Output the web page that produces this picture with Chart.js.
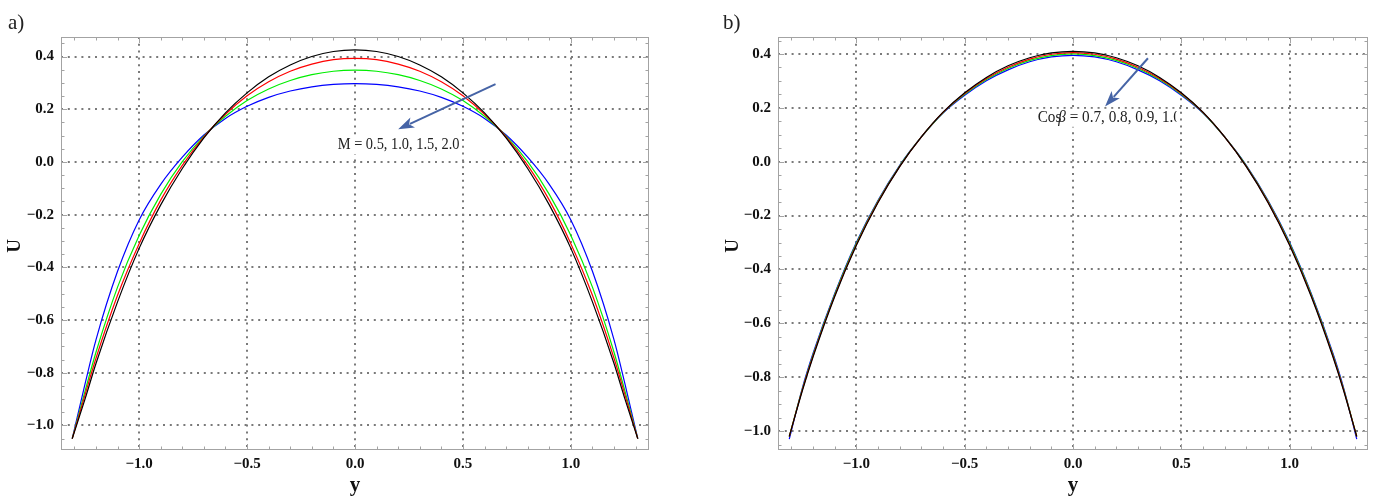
<!DOCTYPE html>
<html>
<head>
<meta charset="utf-8">
<script src="https://cdn.jsdelivr.net/npm/chart.js@4.4.1/dist/chart.umd.min.js"></script>
<style>
  html, body { margin: 0; padding: 0; background: #fff; }
  #wrap { position: relative; width: 1380px; height: 500px; }
  canvas { position: absolute; top: 0; }
</style>
</head>
<body>
<div id="wrap">
  <canvas id="chart-a" width="690" height="500" style="left:0"></canvas>
  <canvas id="chart-b" width="690" height="500" style="left:690px"></canvas>
</div>
<script>
'use strict';

// sample positions across the channel (y)
var yPos = [-1.31, -1.25, -1.2, -1.1, -1.0, -0.9, -0.8, -0.7, -0.6, -0.5, -0.4, -0.3, -0.2, -0.1, 0,
  0.1, 0.2, 0.3, 0.4, 0.5, 0.6, 0.7, 0.8, 0.9, 1.0, 1.1, 1.2, 1.25, 1.31];

// panel a) : M = 0.5, 1.0, 1.5, 2.0
var uM05 = [-1.05, -0.898, -0.765, -0.531, -0.328, -0.163, -0.025, 0.091, 0.186, 0.262, 0.323, 0.368, 0.400, 0.419, 0.425,
  0.419, 0.400, 0.368, 0.323, 0.262, 0.186, 0.091, -0.025, -0.163, -0.328, -0.531, -0.765, -0.898, -1.05];
var uM10 = [-1.05, -0.882, -0.745, -0.506, -0.310, -0.145, -0.013, 0.095, 0.181, 0.251, 0.304, 0.344, 0.371, 0.388, 0.393,
  0.388, 0.371, 0.344, 0.304, 0.251, 0.181, 0.095, -0.013, -0.145, -0.310, -0.506, -0.745, -0.882, -1.05];
var uM15 = [-1.05, -0.868, -0.722, -0.475, -0.279, -0.123, 0.001, 0.098, 0.173, 0.233, 0.277, 0.309, 0.331, 0.344, 0.348,
  0.344, 0.331, 0.309, 0.277, 0.233, 0.173, 0.098, 0.001, -0.123, -0.279, -0.475, -0.722, -0.868, -1.05];
var uM20 = [-1.05, -0.840, -0.675, -0.415, -0.220, -0.085, 0.018, 0.102, 0.165, 0.211, 0.245, 0.269, 0.285, 0.294, 0.297,
  0.294, 0.285, 0.269, 0.245, 0.211, 0.165, 0.102, 0.018, -0.085, -0.220, -0.415, -0.675, -0.840, -1.05];

// panel b) : cos(beta) = 0.7, 0.8, 0.9, 1.0
var uCos07 = [-1.02, -0.851, -0.724, -0.500, -0.310, -0.151, -0.018, 0.092, 0.184, 0.256, 0.313, 0.356, 0.386, 0.404, 0.410,
  0.404, 0.386, 0.356, 0.313, 0.256, 0.184, 0.092, -0.018, -0.151, -0.310, -0.500, -0.724, -0.851, -1.02];
var uCos08 = [-1.02, -0.848, -0.720, -0.497, -0.307, -0.149, -0.017, 0.092, 0.183, 0.253, 0.309, 0.351, 0.381, 0.399, 0.405,
  0.399, 0.381, 0.351, 0.309, 0.253, 0.183, 0.092, -0.017, -0.149, -0.307, -0.497, -0.720, -0.848, -1.02];
var uCos09 = [-1.02, -0.845, -0.716, -0.493, -0.303, -0.146, -0.015, 0.092, 0.182, 0.250, 0.305, 0.346, 0.376, 0.394, 0.400,
  0.394, 0.376, 0.346, 0.305, 0.250, 0.182, 0.092, -0.015, -0.146, -0.303, -0.493, -0.716, -0.845, -1.02];
var uCos10 = [-1.03, -0.841, -0.711, -0.489, -0.299, -0.143, -0.013, 0.092, 0.181, 0.247, 0.301, 0.341, 0.371, 0.389, 0.395,
  0.389, 0.371, 0.341, 0.301, 0.247, 0.181, 0.092, -0.013, -0.143, -0.299, -0.489, -0.711, -0.841, -1.03];

var xTicks = [-1.0, -0.5, 0.0, 0.5, 1.0];
var yTicks = [-1.0, -0.8, -0.6, -0.4, -0.2, 0.0, 0.2, 0.4];
var lineColors = ['#000000', '#ff0000', '#00ee00', '#0000ff'];

var serif = "'Liberation Serif', 'Times New Roman', serif";
var frameColor = '#a3a3a3';
var gridColor = '#7a7a7a';
var arrowColor = '#4664a6';

function fmt(v) {
  var s = Math.abs(v).toFixed(1);
  return v < -1e-9 ? '\u2212' + s : s;
}

function toPoints(arr) {
  return yPos.map(function (x, i) { return { x: x, y: arr[i] }; });
}

function drawArrow(ctx, x1, y1, x2, y2) {
  var ang = Math.atan2(y2 - y1, x2 - x1);
  var c = Math.cos(ang), s = Math.sin(ang);
  var headLen = 16, headW = 5.5;
  var bx = x2 - headLen * c, by = y2 - headLen * s;
  ctx.strokeStyle = arrowColor;
  ctx.fillStyle = arrowColor;
  ctx.lineWidth = 2;
  ctx.beginPath();
  ctx.moveTo(x1, y1);
  ctx.lineTo(bx + 3 * c, by + 3 * s);
  ctx.stroke();
  ctx.beginPath();
  ctx.moveTo(x2, y2);
  ctx.lineTo(bx - headW * s, by + headW * c);
  ctx.lineTo(bx + 4 * c, by + 4 * s);
  ctx.lineTo(bx + headW * s, by - headW * c);
  ctx.closePath();
  ctx.fill();
}

// frame, inward ticks, panel letter, axis titles and annotation
function decorPlugin(cfg) {
  return {
    id: 'decor',
    afterDraw: function (chart) {
      var ctx = chart.ctx, a = chart.chartArea;
      var sx = chart.scales.x, sy = chart.scales.y;
      var i, p;
      ctx.save();
      ctx.strokeStyle = frameColor;
      ctx.lineWidth = 1;
      ctx.strokeRect(Math.round(a.left) + 0.5, Math.round(a.top) + 0.5,
        Math.round(a.right - a.left) - 1, Math.round(a.bottom - a.top) - 1);
      ctx.beginPath();
      for (i = -13; i <= 13; i++) {
        p = Math.round(sx.getPixelForValue(i / 10)) + 0.5;
        var lx = i % 5 === 0 ? 6 : 3.5;
        ctx.moveTo(p, a.bottom); ctx.lineTo(p, a.bottom - lx);
        ctx.moveTo(p, a.top); ctx.lineTo(p, a.top + lx);
      }
      for (i = -21; i <= 9; i++) {
        p = Math.round(sy.getPixelForValue(i * 0.05)) + 0.5;
        var ly = i % 4 === 0 ? 6 : 3.5;
        ctx.moveTo(a.left, p); ctx.lineTo(a.left + ly, p);
        ctx.moveTo(a.right, p); ctx.lineTo(a.right - ly, p);
      }
      ctx.stroke();

      ctx.fillStyle = '#222';
      ctx.font = '21px ' + serif;
      ctx.textAlign = 'left';
      ctx.textBaseline = 'alphabetic';
      ctx.fillText(cfg.panel, cfg.panelX, 29);

      ctx.fillStyle = '#111';
      ctx.font = 'bold 21px ' + serif;
      ctx.textAlign = 'center';
      ctx.fillText('y', sx.getPixelForValue(0), 491);
      ctx.save();
      ctx.translate(cfg.uX, 246);
      ctx.rotate(-Math.PI / 2);
      ctx.textBaseline = 'middle';
      ctx.font = 'bold 19px ' + serif;
      ctx.fillText('U', 0, 0);
      ctx.restore();

      var n = cfg.note;
      var tx = sx.getPixelForValue(n.textX), ty = sy.getPixelForValue(n.textY);
      var right = n.clipX !== undefined ? sx.getPixelForValue(n.clipX) : tx + n.width + 2;
      ctx.fillStyle = '#fff';
      ctx.fillRect(tx - 2, ty - 9, right - tx + 2, 18);
      ctx.save();
      ctx.beginPath();
      ctx.rect(tx - 2, ty - 12, right - tx + 2, 24);
      ctx.clip();
      ctx.fillStyle = '#222';
      ctx.textAlign = 'left';
      ctx.textBaseline = 'middle';
      var cx = tx;
      n.parts.forEach(function (part) {
        ctx.font = (part.italic ? 'italic ' : '') + n.size + 'px ' + serif;
        var w = ctx.measureText(part.text).width * n.squeeze;
        ctx.fillText(part.text, cx, ty, w);
        cx += w + (part.kern || 0);
      });
      ctx.restore();
      drawArrow(ctx, sx.getPixelForValue(n.from[0]), sy.getPixelForValue(n.from[1]),
        sx.getPixelForValue(n.to[0]), sy.getPixelForValue(n.to[1]));
      ctx.restore();
    }
  };
}

function makeChart(id, series, yMin, yMax, pad, cfg) {
  var tickFont = { family: serif, size: 15, weight: 'bold' };
  return new Chart(document.getElementById(id), {
    type: 'line',
    data: {
      datasets: series.map(function (arr, i) {
        return {
          data: toPoints(arr),
          borderColor: lineColors[i],
          borderWidth: 1.2,
          pointRadius: 0,
          fill: false,
          cubicInterpolationMode: 'monotone'
        };
      })
    },
    options: {
      responsive: false,
      animation: false,
      events: [],
      layout: { padding: pad },
      plugins: { legend: { display: false }, tooltip: { enabled: false } },
      scales: {
        x: {
          type: 'linear',
          min: -1.362,
          max: 1.362,
          afterBuildTicks: function (scale) {
            scale.ticks = xTicks.map(function (v) { return { value: v }; });
          },
          afterFit: function (scale) { scale.height = 50; },
          grid: { color: gridColor, lineWidth: 2, drawTicks: false },
          border: { display: false, dash: [2, 4.8] },
          ticks: {
            font: tickFont, color: '#111', padding: 5, maxRotation: 0, autoSkip: false,
            callback: function (v) { return fmt(v); }
          }
        },
        y: {
          type: 'linear',
          min: yMin,
          max: yMax,
          afterBuildTicks: function (scale) {
            scale.ticks = yTicks.map(function (v) { return { value: v }; });
          },
          afterFit: function (scale) { scale.width = 50; },
          grid: { color: gridColor, lineWidth: 2, drawTicks: false },
          border: { display: false, dash: [2, 4.8] },
          ticks: {
            font: tickFont, color: '#111', padding: 7, autoSkip: false,
            callback: function (v) { return fmt(v); }
          }
        }
      }
    },
    plugins: [decorPlugin(cfg)]
  });
}

makeChart('chart-a', [uM05, uM10, uM15, uM20], -1.093, 0.474,
  { left: 11, right: 41, top: 37, bottom: 0 },
  {
    panel: 'a)', panelX: 8, uX: 15,
    note: {
      textX: -0.08, textY: 0.064, size: 16, squeeze: 0.9, width: 120,
      parts: [{ text: 'M = 0.5, 1.0, 1.5, 2.0' }],
      from: [0.651, 0.295], to: [0.2, 0.124]
    }
  });

makeChart('chart-b', [uCos07, uCos08, uCos09, uCos10], -1.07, 0.463,
  { left: 38, right: 12, top: 37, bottom: 0 },
  {
    panel: 'b)', panelX: 33, uX: 43,
    note: {
      textX: -0.163, textY: 0.163, size: 16, squeeze: 0.95, clipX: 0.478,
      parts: [{ text: 'Cos', kern: -3 }, { text: '\u03b2', italic: true }, { text: ' = 0.7, 0.8, 0.9, 1.0' }],
      from: [0.346, 0.384], to: [0.148, 0.205]
    }
  });
</script>
</body>
</html>
